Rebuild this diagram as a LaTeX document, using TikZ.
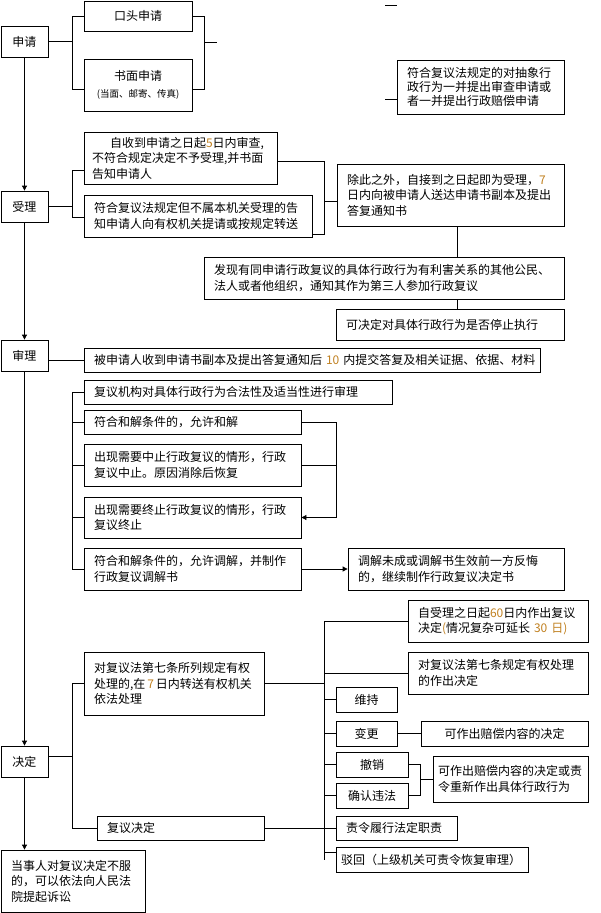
\documentclass[tikz,border=0pt]{standalone}
\usepackage{fontspec}
\setmainfont{Noto Sans CJK SC}
\usetikzlibrary{arrows.meta}
\definecolor{numc}{HTML}{C08020}
\newcommand{\nm}[1]{\textcolor{numc}{#1}}
\tikzset{
  bx/.style={draw, line width=0.8pt, inner xsep=10pt, inner ysep=0pt, align=left,
    font=\fontsize{12}{15.5}\selectfont},
  cbx/.style={bx, align=center},
  ln/.style={line width=0.8pt},
  arr/.style={ln, -{Triangle[length=5pt,width=5pt]}}
}
\begin{document}
\begin{tikzpicture}[x=1pt,y=-1pt]
\useasboundingbox (0,0) rectangle (601,913);
% left column
\node[cbx, text width=27pt, minimum height=31pt] (sq) at (24.5,41.5) {申请};
\node[cbx, text width=27pt, minimum height=31pt] (sl) at (24.5,206.5) {受理};
\node[cbx, text width=27pt, minimum height=31pt] (sh) at (24.5,355.5) {审理};
\node[cbx, text width=27pt, minimum height=31pt] (jd) at (24.5,761.5) {决定};
\node[bx, text width=124pt, minimum height=62pt] (ss) at (73,881) {当事人对复议决定不服\\的，可以依法向人民法\\院提起诉讼};
% apply
\node[cbx, text width=88pt, minimum height=30pt] (kt) at (138,16) {口头申请};
\node[cbx, text width=88pt, minimum height=52pt] (sm) at (138,85) {书面申请\\[2pt]{\fontsize{9.5}{11}\selectfont (当面、邮寄、传真)}};
\node[bx, text width=147pt, minimum height=54pt, font=\fontsize{12}{14}\selectfont] (cx) at (480.5,87) {符合复议法规定的对抽象行\\政行为一并提出审查申请或\\者一并提出行政赔偿申请};
% accept
\node[bx, inner xsep=8pt, text width=177pt, minimum height=52pt] (a1) at (180.5,158) {\hspace*{18pt}自收到申请之日起\nm{5}日内审查,\\不符合规定决定不予受理,并书面\\告知申请人};
\node[bx, text width=208pt, minimum height=42pt] (a2) at (198,216) {符合复议法规定但不属本机关受理的告\\知申请人向有权机关提请或按规定转送};
\node[bx, text width=207pt, minimum height=62pt] (a3) at (450.5,195) {除此之外，自接到之日起即为受理，\nm{7}\\日内向被申请人送达申请书副本及提出\\答复通知书};
\node[bx, text width=340pt, minimum height=42pt] (a4) at (384,278) {发现有同申请行政复议的具体行政行为有利害关系的其他公民、\\法人或者他组织，通知其作为第三人参加行政复议};
\node[bx, text width=208pt, minimum height=31pt] (a5) at (450,324.5) {可决定对具体行政行为是否停止执行};
% review
\node[bx, text width=436pt, minimum height=24pt] (b0) at (312,360) {\mbox{被申请人收到申请书副本及提出答复通知后~\nm{10}~内提交答复及相关证据、依据、材料}};
\node[bx, text width=288pt, minimum height=24pt] (b1) at (238,392) {复议机构对具体行政行为合法性及适当性进行审理};
\node[bx, text width=197pt, minimum height=24pt] (b2) at (192.5,422) {符合和解条件的，允许和解};
\node[bx, text width=197pt, minimum height=42pt] (b3) at (192.5,465) {出现需要中止行政复议的情形，行政\\复议中止。原因消除后恢复};
\node[bx, text width=197pt, minimum height=41pt] (b4) at (192.5,517.5) {出现需要终止行政复议的情形，行政\\复议终止};
\node[bx, text width=197pt, minimum height=42pt] (b5) at (192.5,569) {符合和解条件的，允许调解，并制作\\行政复议调解书};
\node[bx, text width=196pt, minimum height=42pt] (b6) at (456,569) {调解未成或调解书生效前一方反悔\\的，继续制作行政复议决定书};
% decision
\node[bx, text width=160pt, minimum height=63pt] (c1) at (174,683.5) {对复议法第七条所列规定有权\\\mbox{处理的,在\,\nm{7}\,日内转送有权机关}\\依法处理};
\node[bx, text width=147pt, minimum height=24pt] (c2) at (180.5,828) {复议决定};
\node[bx, text width=160pt, minimum height=42pt] (d1) at (498,621) {自受理之日起\nm{60}日内作出复议\\\mbox{决定\nm{(}情况复杂可延长~\nm{30~日)}}};
\node[bx, text width=160pt, minimum height=42pt] (d2) at (498,673) {对复议法第七条规定有权处理\\的作出决定};
\node[cbx, text width=41pt, minimum height=25pt] (d3) at (366.5,699.5) {维持};
\node[cbx, text width=41pt, minimum height=25pt] (d4) at (366.5,733.5) {变更};
\node[cbx, text width=147pt, minimum height=25pt] (d4r) at (504.5,733.5) {可作出赔偿内容的决定};
\node[cbx, text width=52pt, minimum height=25pt] (d5) at (372,764.5) {撤销};
\node[cbx, text width=52pt, minimum height=25pt] (d6) at (372,795.5) {确认违法};
\node[bx, inner xsep=5pt, text width=145pt, minimum height=46pt] (d56r) at (510.5,779) {可作出赔偿内容的决定或责\\令重新作出具体行政行为};
\node[bx, text width=101pt, minimum height=24pt] (d7) at (396.5,828) {责令履行法定职责};
\node[bx, inner xsep=5pt, text width=182pt, minimum height=25pt] (d8) at (432,859.5) {驳回（上级机关可责令恢复审理）};
% main arrows
\draw[arr] (sq.south) -- (sl.north);
\draw[arr] (sl.south) -- (sh.north);
\draw[arr] (sh.south) -- (jd.north);
\draw[arr] (jd.south) -- (jd.south |- ss.north);
% apply bracket
\draw[ln] (sq.east) -- (72,41.5);
\draw[ln] (kt.west) -| (72,89) -- (sm.west |- 72,89);
\draw[ln] (kt.east) -| (204,89) -- (sm.east |- 204,89);
\coordinate (f1) at (217,42);
\draw[ln] (204,42) -- (f1);
\coordinate (f2) at (385,99);
\draw[ln] (f2) -- (cx.west |- f2);
\coordinate (f3a) at (385,5);
\coordinate (f3b) at (397,5);
\draw[ln] (f3a) -- (f3b);
% accept bracket
\draw[ln] (sl.east) -- (72,206.5);
\draw[ln] (a1.west |- 0,170) -| (72,217) -- (a2.west |- 0,217);
\draw[ln] (a1.east |- 0,161) -| (324,234) -- (a2.east |- 0,234);
\draw[ln] (324,201) -- (a3.west |- 0,201);
\coordinate (xa) at (457,0);
\draw[ln] (a3.south -| xa) -- (a4.north -| xa);
\draw[ln] (a4.south -| xa) -- (a5.north -| xa);
% review bracket
\draw[ln] (b0.west -| sh.east) -- (b0.west);
\draw[ln] (b1.west) -| (72,569) -- (b5.west);
\draw[ln] (b2.west -| 72,0) -- (b2.west);
\draw[ln] (b3.west -| 72,0) -- (b3.west);
\draw[ln] (b4.west -| 72,0) -- (b4.west);
\draw[arr] (b2.east) -| (336,517.5) -- (b4.east);
\draw[ln] (b3.east) -- (b3.east -| 336,0);
\draw[arr] (b5.east) -- (b6.west);
% decision bracket
\draw[ln] (jd.east |- 0,756) -- (72,756);
\draw[ln] (c1.west) -| (72,828) -- (c2.west);
\draw[ln] (c1.east) -- (c1.east -| 324,0);
\draw[ln] (c2.east) -- (d7.west);
\draw[ln] (d1.west) -| (324,860);
\draw[ln] (d2.west) -- (d2.west -| 324,0);
\draw[ln] (d3.west) -- (d3.west -| 324,0);
\draw[ln] (d4.west) -- (d4.west -| 324,0);
\draw[ln] (d5.west) -- (d5.west -| 324,0);
\draw[ln] (d6.west) -- (d6.west -| 324,0);
\draw[ln] (d8.west |- 0,852) -- (324,852);
\draw[ln] (d4.east) -- (d4r.west);
\draw[ln] (d5.east) -| (420,795.5) -- (d6.east);
\draw[ln] (420,779) -- (d56r.west);
\end{tikzpicture}
\end{document}
